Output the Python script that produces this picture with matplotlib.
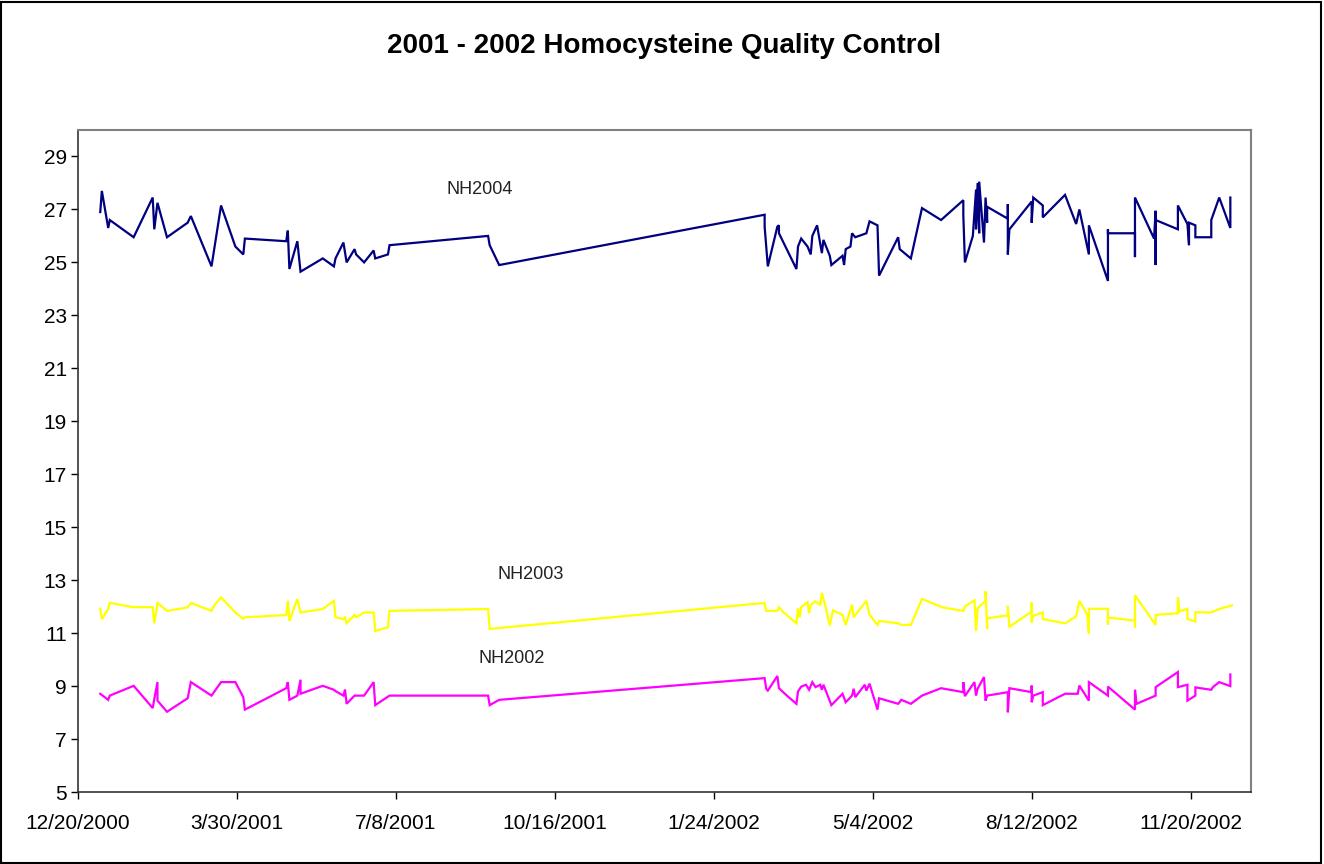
import matplotlib
matplotlib.use("Agg")
import matplotlib.pyplot as plt
import pandas as pd
from matplotlib.patches import Rectangle

# ---------------- data ----------------
start_date = "2000-12-20"
end_day = 738

nh2004_days = [14, 15, 19, 20, 35, 47, 48, 50, 56, 69, 71, 84, 90, 99, 104, 105,
               131, 132, 133, 138, 140, 154, 161, 162, 167, 169, 174, 175, 180, 186,
               187, 195, 196, 258, 259, 265, 432, 432, 434, 440, 441, 441, 452, 453,
               455, 459, 461, 462, 465, 468, 469, 473, 474, 481, 482, 483, 486, 487,
               489, 496, 498, 503, 504, 516, 517, 524, 531, 543, 557, 557, 558, 563,
               565, 565, 566, 567, 567, 570, 571, 572, 572, 585, 585, 585, 586, 600,
               600, 601, 607, 607, 621, 628, 630, 636, 636, 648, 648, 648, 665, 665,
               665, 677, 678, 678, 678, 692, 692, 698, 699, 699, 703, 703, 713, 713,
               718, 725, 725]
nh2004_vals = [26.9, 27.7, 26.3, 26.6, 25.95, 27.45, 26.25, 27.25, 25.95, 26.5, 26.75,
               24.85, 27.15, 25.6, 25.3, 25.9, 25.8, 26.2, 24.75, 25.8, 24.65, 25.15,
               24.85, 25.15, 25.75, 25.0, 25.5, 25.3, 25.0, 25.45, 25.15, 25.3, 25.65,
               26.0, 25.65, 24.9, 26.8, 26.35, 24.85, 26.35, 26.4, 26.1, 24.75, 25.6,
               25.9, 25.6, 25.3, 26.0, 26.4, 25.35, 25.85, 25.25, 24.9, 25.25, 24.9,
               25.5, 25.6, 26.1, 25.95, 26.1, 26.55, 26.4, 24.5, 25.95, 25.5, 25.15,
               27.05, 26.6, 27.35, 26.8, 25.0, 26.0, 27.75, 26.25, 28.0, 26.1, 28.05,
               25.75, 27.45, 26.5, 27.1, 26.65, 27.2, 25.3, 26.25, 27.3, 26.5, 27.45,
               27.15, 26.7, 27.55, 26.45, 27.0, 25.3, 26.4, 24.3, 26.25, 26.1, 26.1,
               25.2, 27.45, 25.9, 26.95, 24.9, 26.6, 26.25, 27.15, 26.45, 25.65, 26.5,
               26.4, 25.95, 25.95, 26.6, 27.45, 26.3, 27.45]

nh2003_days = [14, 15, 19, 20, 35, 47, 48, 50, 56, 69, 71, 84, 86, 90, 99, 104, 105,
               131, 132, 133, 138, 140, 154, 161, 162, 167, 168, 169, 174, 175, 180,
               186, 187, 195, 196, 258, 259, 432, 433, 440, 441, 444, 452, 453, 454,
               455, 459, 460, 461, 464, 467, 468, 470, 473, 475, 481, 483, 487, 488,
               496, 498, 503, 504, 516, 518, 524, 531, 544, 557, 558, 564, 565, 566,
               571, 571, 572, 572, 585, 585, 586, 600, 600, 600, 601, 607, 607, 621,
               628, 630, 635, 636, 636, 648, 648, 648, 665, 665, 665, 678, 678, 692,
               692, 693, 698, 698, 703, 703, 713, 718, 726]
nh2003_vals = [11.92, 11.53, 11.91, 12.14, 11.98, 11.98, 11.37, 12.14, 11.84, 11.97,
               12.14, 11.84, 12.07, 12.35, 11.78, 11.54, 11.6, 11.68, 12.22, 11.46,
               12.29, 11.78, 11.91, 12.22, 11.6, 11.53, 11.59, 11.37, 11.69, 11.6,
               11.78, 11.78, 11.08, 11.22, 11.84, 11.91, 11.16, 12.14, 11.84, 11.84,
               11.97, 11.78, 11.37, 11.94, 11.59, 11.98, 12.17, 11.75, 12.07, 12.2,
               12.07, 12.52, 12.07, 11.29, 11.86, 11.69, 11.31, 12.07, 11.6, 12.22,
               11.69, 11.31, 11.46, 11.37, 11.31, 11.31, 12.29, 11.97, 11.84, 12.01,
               12.24, 11.08, 11.94, 12.22, 12.58, 11.16, 11.56, 11.67, 12.03, 11.24,
               11.81, 12.16, 11.4, 11.65, 11.78, 11.53, 11.37, 11.63, 12.22, 11.69,
               10.99, 11.92, 11.92, 11.31, 11.59, 11.47, 11.21, 12.43, 11.31, 11.69,
               11.75, 12.36, 11.82, 11.92, 11.53, 11.44, 11.79, 11.78, 11.91, 12.05]

nh2002_days = [14, 19, 20, 35, 47, 48, 50, 50, 56, 69, 71, 84, 90, 99, 104, 105, 131,
               132, 133, 138, 140, 140, 154, 161, 162, 167, 168, 169, 174, 180, 186,
               187, 196, 258, 259, 265, 432, 433, 434, 440, 441, 446, 452, 453, 455,
               458, 460, 462, 464, 467, 468, 469, 474, 481, 483, 487, 488, 489, 495,
               496, 498, 503, 504, 516, 518, 524, 531, 543, 557, 557, 558, 564, 565,
               566, 570, 571, 572, 585, 585, 586, 600, 600, 600, 601, 607, 607, 621,
               629, 630, 636, 636, 648, 648, 665, 665, 666, 678, 678, 692, 692, 698,
               698, 703, 703, 713, 714, 718, 725, 725]
nh2002_vals = [8.71, 8.48, 8.64, 9.01, 8.17, 8.51, 9.15, 8.45, 8.03, 8.54, 9.15, 8.64,
               9.15, 9.15, 8.58, 8.11, 8.92, 9.15, 8.48, 8.64, 9.24, 8.71, 9.01, 8.86,
               8.81, 8.64, 8.87, 8.33, 8.64, 8.64, 9.15, 8.28, 8.64, 8.64, 8.28, 8.48,
               9.3, 8.9, 8.83, 9.38, 8.92, 8.64, 8.33, 8.8, 8.98, 9.05, 8.86, 9.15, 8.96,
               9.05, 8.86, 9.05, 8.28, 8.71, 8.39, 8.64, 8.9, 8.58, 9.05, 8.83, 9.09,
               8.11, 8.54, 8.33, 8.48, 8.33, 8.64, 8.92, 8.77, 9.15, 8.62, 9.15, 8.64,
               8.9, 9.34, 8.45, 8.64, 8.77, 8.01, 8.92, 8.77, 9.02, 8.39, 8.64, 8.77,
               8.28, 8.71, 8.71, 9.02, 8.45, 9.15, 8.64, 8.98, 8.11, 8.86, 8.33, 8.64,
               8.96, 9.53, 8.96, 9.05, 8.45, 8.64, 8.95, 8.86, 8.96, 9.15, 9.0, 9.44]

series_names = ["NH2004", "NH2003", "NH2002"]
series_colors = ["#000080", "#FFFF00", "#FF00FF"]
# label anchor (day offset, value) for each series name
label_days = [253, 285, 273]
label_vals = [27.75, 13.22, 10.05]

xtick_labels = ["12/20/2000", "3/30/2001", "7/8/2001", "10/16/2001",
                "1/24/2002", "5/4/2002", "8/12/2002", "11/20/2002"]
ytick_values = [5, 7, 9, 11, 13, 15, 17, 19, 21, 23, 25, 27, 29]

title = "2001 - 2002 Homocysteine Quality Control"

# ---------------- plot ----------------
plt.rcParams['font.family'] = ['Liberation Sans', 'DejaVu Sans']

t0 = pd.Timestamp(start_date)
def to_dates(days):
    return [t0 + pd.Timedelta(days=d) for d in days]

fig = plt.figure(figsize=(13.24, 8.64), dpi=100)
ax = fig.add_axes([78/1324, 1 - 792/864, (1251-78)/1324, (792-130)/864])

all_days = [nh2004_days, nh2003_days, nh2002_days]
all_vals = [nh2004_vals, nh2003_vals, nh2002_vals]
for d, v, c, n in zip(all_days, all_vals, series_colors, series_names):
    ax.plot(to_dates(d), v, color=c, lw=1.6, label=n, solid_joinstyle='miter')

ax.set_ylim(5, 30)
ax.set_xlim(t0, t0 + pd.Timedelta(days=end_day))
ax.set_yticks(ytick_values)
ax.set_yticklabels([str(v) for v in ytick_values])
xt = [t0 + pd.Timedelta(days=100 * i) for i in range(len(xtick_labels))]
ax.set_xticks(xt)
ax.set_xticklabels(xtick_labels)

ax.tick_params(axis='both', direction='out', length=5, width=1, colors='black',
               labelsize=15)
ax.tick_params(axis='x', pad=10.5)
ax.tick_params(axis='y', pad=3)

for s in ['left', 'bottom']:
    ax.spines[s].set_color('#333333')
    ax.spines[s].set_linewidth(1.2)
for s in ['top', 'right']:
    ax.spines[s].set_color('#808080')
    ax.spines[s].set_linewidth(1.5)

# series name labels
for n, d, v in zip(series_names, label_days, label_vals):
    ax.text(t0 + pd.Timedelta(days=d), v, n, ha='center', va='center',
            color='#222222', fontsize=13)

fig.text(664.5/1324, 1 - 46/864, title, ha='center', va='center',
         fontsize=20, fontweight='bold')

fig.patches.append(Rectangle((0.001, 0.001), 0.997, 0.997, transform=fig.transFigure,
                             fill=False, edgecolor='black', lw=1.5))

fig.savefig("out.png", dpi=100)
